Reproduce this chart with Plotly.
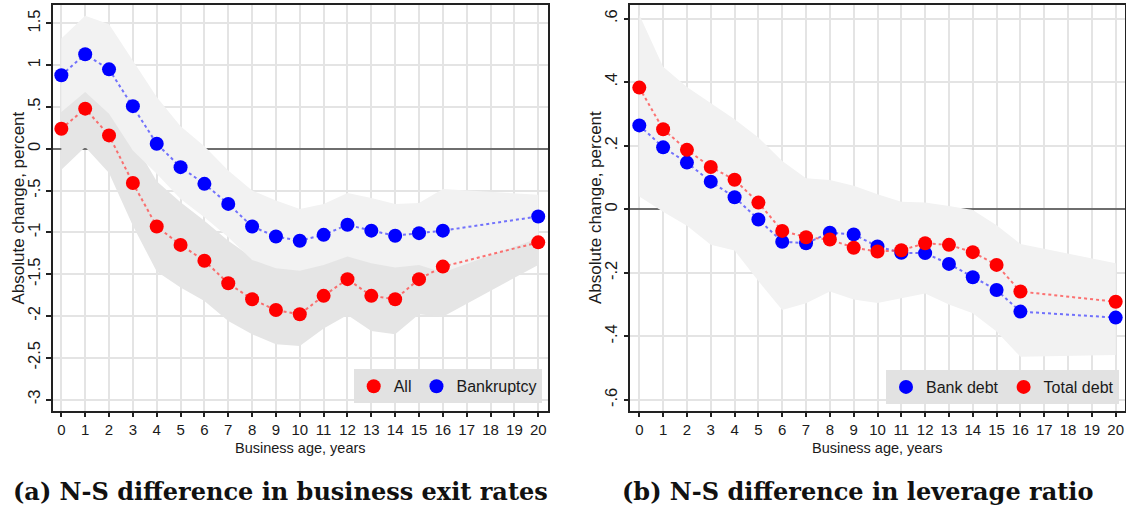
import plotly.graph_objects as go

# ---------------- data ----------------
ages = [0, 1, 2, 3, 4, 5, 6, 7, 8, 9, 10, 11, 12, 13, 14, 15, 16, 20]
age_ticks = list(range(0, 21))

# Panel (a): N-S difference in business exit rates
all_exit = [0.24, 0.48, 0.16, -0.41, -0.93, -1.15, -1.34, -1.61, -1.80, -1.93,
            -1.98, -1.76, -1.56, -1.76, -1.80, -1.56, -1.41, -1.12]
all_lo = [-0.25, 0.02, -0.29, -0.92, -1.47, -1.66, -1.82, -2.06, -2.22, -2.34,
          -2.36, -2.15, -1.99, -2.18, -2.22, -1.98, -2.01, -1.39]
all_hi = [0.73, 0.94, 0.61, 0.10, -0.39, -0.64, -0.86, -1.10, -1.30, -1.40,
          -1.42, -1.32, -1.13, -1.30, -1.36, -1.14, -0.81, -0.85]
bankr_exit = [0.88, 1.13, 0.95, 0.51, 0.06, -0.22, -0.42, -0.66, -0.93, -1.05,
              -1.10, -1.03, -0.91, -0.98, -1.04, -1.01, -0.98, -0.81]
bankr_hi = [1.32, 1.59, 1.49, 1.06, 0.62, 0.27, 0.03, -0.26, -0.50, -0.62,
            -0.72, -0.66, -0.53, -0.59, -0.66, -0.65, -0.48, -0.55]
bankr_lo = [0.44, 0.68, 0.42, -0.02, -0.30, -0.60, -0.82, -1.06, -1.33, -1.43,
            -1.46, -1.39, -1.29, -1.37, -1.42, -1.39, -1.48, -1.07]

# Panel (b): N-S difference in leverage ratio
bank_debt = [0.264, 0.195, 0.147, 0.087, 0.038, -0.032, -0.102, -0.107, -0.074, -0.079,
             -0.117, -0.137, -0.138, -0.172, -0.214, -0.254, -0.322, -0.341]
total_debt = [0.383, 0.252, 0.187, 0.133, 0.093, 0.021, -0.068, -0.088, -0.095, -0.121,
              -0.133, -0.129, -0.107, -0.112, -0.135, -0.175, -0.259, -0.291]
lev_hi = [0.612, 0.449, 0.385, 0.334, 0.283, 0.226, 0.152, 0.098, 0.092, 0.074,
          0.047, 0.024, 0.021, 0.010, -0.002, -0.050, -0.109, -0.170]
lev_lo = [0.040, -0.008, -0.052, -0.112, -0.130, -0.226, -0.317, -0.296, -0.259, -0.284,
          -0.295, -0.280, -0.265, -0.300, -0.327, -0.385, -0.464, -0.459]

yticks_a = [1.5, 1, 0.5, 0, -0.5, -1, -1.5, -2, -2.5, -3]
yticklabels_a = ["1.5", "1", ".5", "0", "-.5", "-1", "-1.5", "-2", "-2.5", "-3"]
yticks_b = [0.6, 0.4, 0.2, 0, -0.2, -0.4, -0.6]
yticklabels_b = [".6", ".4", ".2", "0", "-.2", "-.4", "-.6"]

# ---------------- styles ----------------
RED = "#ff0000"
BLUE = "#0000ff"
RED_LINE = "rgba(255,70,70,0.75)"
BLUE_LINE = "rgba(70,70,255,0.75)"
BAND_LIGHT = "#f2f2f2"
BAND_MED = "#e5e5e5"
GRID = "#e4e4e4"
SANS = "Liberation Sans, Arial, sans-serif"
MS = 14

fig = go.Figure()


def band(x, lo, hi, color, xa, ya):
    fig.add_trace(go.Scatter(
        x=list(x) + list(x)[::-1], y=list(hi) + list(lo)[::-1],
        fill="toself", fillcolor=color, line=dict(width=0), mode="lines",
        hoverinfo="skip", showlegend=False, xaxis=xa, yaxis=ya))


def series(x, y, name, mcolor, lcolor, xa, ya, legend, rank):
    fig.add_trace(go.Scatter(
        x=x, y=y, mode="lines", line=dict(color=lcolor, width=2, dash="dot"),
        showlegend=False, hoverinfo="skip", xaxis=xa, yaxis=ya))
    fig.add_trace(go.Scatter(
        x=x, y=y, mode="markers", name=name,
        marker=dict(color=mcolor, size=MS, line=dict(width=0)),
        xaxis=xa, yaxis=ya, legend=legend, legendrank=rank))


# panel (a)
band(ages, all_lo, all_hi, BAND_MED, "x", "y")
band(ages, bankr_lo, bankr_hi, BAND_LIGHT, "x", "y")
series(ages, bankr_exit, "Bankruptcy", BLUE, BLUE_LINE, "x", "y", "legend", 2)
series(ages, all_exit, "All", RED, RED_LINE, "x", "y", "legend", 1)

# panel (b)
band(ages, lev_lo, lev_hi, BAND_LIGHT, "x2", "y2")
series(ages, bank_debt, "Bank debt", BLUE, BLUE_LINE, "x2", "y2", "legend2", 1)
series(ages, total_debt, "Total debt", RED, RED_LINE, "x2", "y2", "legend2", 2)

W, H = 1126, 514
def px(v):
    return v / W
def py(v):
    return 1 - v / H

xcommon = dict(
    tickvals=age_ticks, ticktext=[str(t) for t in age_ticks],
    showgrid=True, gridcolor=GRID, gridwidth=1.5,
    showline=True, linecolor="#222", linewidth=1.5, mirror=True,
    ticks="outside", ticklen=5, tickwidth=1.5, tickcolor="#222",
    tickfont=dict(family=SANS, size=15, color="#1a1a1a"),
    zeroline=False, automargin=False,
)
ycommon = dict(
    showgrid=True, gridcolor=GRID, gridwidth=1.5,
    showline=True, linecolor="#222", linewidth=1.5, mirror=True,
    ticks="outside", ticklen=5, tickwidth=1.5, tickcolor="#222",
    tickangle=-90,
    tickfont=dict(family=SANS, size=16.5, color="#1a1a1a"),
    zeroline=True, zerolinecolor="#6e6e6e", zerolinewidth=2,
    automargin=False,
)

ydom = [py(410.7), py(5)]
legend_common = dict(orientation="h", xanchor="right", yanchor="bottom",
                     bgcolor="#e2e2e2", borderwidth=0,
                     font=dict(family=SANS, size=16, color="#1a1a1a"),
                     itemsizing="trace", traceorder="normal")
fig.update_layout(
    width=W, height=H, autosize=False,
    margin=dict(l=0, r=0, t=0, b=0),
    paper_bgcolor="white", plot_bgcolor="white",
    xaxis=dict(domain=[px(53), px(548)], range=[-0.35, 20.41], **xcommon),
    yaxis=dict(domain=ydom, range=[-3.134, 1.72], tickvals=yticks_a,
               ticktext=yticklabels_a, **ycommon),
    xaxis2=dict(domain=[px(630.3), px(1124.5)], range=[-0.378, 20.37],
                anchor="y2", **xcommon),
    yaxis2=dict(domain=ydom, range=[-0.634, 0.643], tickvals=yticks_b,
                ticktext=yticklabels_b, anchor="x2", **ycommon),
    legend=dict(x=px(541.7), y=py(403.3), **legend_common),
    legend2=dict(x=px(1119), y=py(404), **legend_common),
    showlegend=True,
)

ann_font = dict(family=SANS, size=17, color="#1a1a1a")
xt_font = dict(family=SANS, size=14.5, color="#1a1a1a")
cap_font = dict(family="DejaVu Serif, Liberation Serif, serif", size=24, color="#111")
annots = [
    dict(text="Absolute change, percent", x=px(17.5), y=py(208), textangle=-90, font=ann_font),
    dict(text="Absolute change, percent", x=px(595), y=py(208), textangle=-90, font=ann_font),
    dict(text="Business age, years", x=px(300), y=py(448), font=xt_font),
    dict(text="Business age, years", x=px(877), y=py(448), font=xt_font),
    dict(text="<b>(a) N-S difference in business exit rates</b>", x=px(280), y=py(491), font=cap_font),
    dict(text="<b>(b) N-S difference in leverage ratio</b>", x=px(857), y=py(491), font=cap_font),
]
for a in annots:
    fig.add_annotation(xref="paper", yref="paper", showarrow=False,
                       xanchor="center", yanchor="middle", **a)

fig.write_html("out.html")
